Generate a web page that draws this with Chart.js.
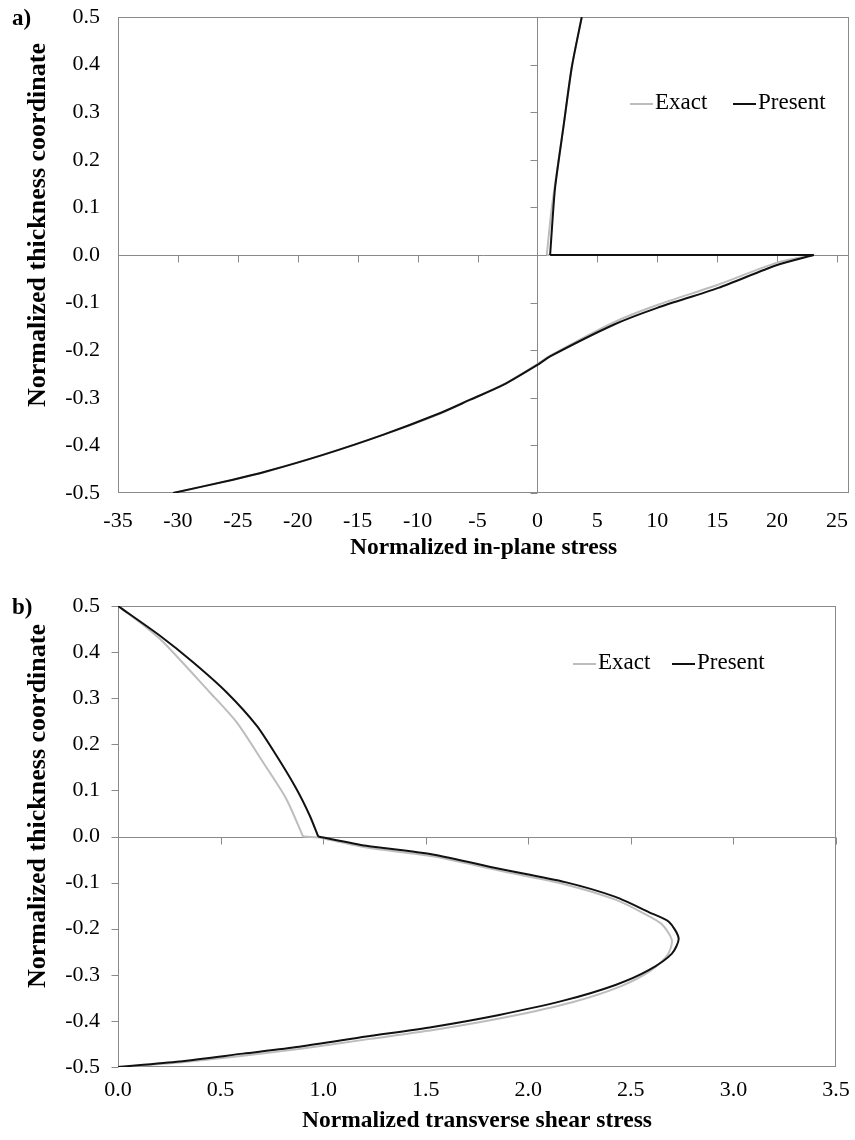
<!DOCTYPE html>
<html>
<head>
<meta charset="utf-8">
<script src="https://cdn.jsdelivr.net/npm/chart.js@4.4.1/dist/chart.umd.min.js"></script>
<style>
  body { margin: 0; background: #fff; }
  #page { position: relative; width: 855px; height: 1140px; background: #fff; font-family: 'Liberation Serif', 'Times New Roman', serif; }
  canvas { position: absolute; left: 0; }
  .panel { position: absolute; left: 12px; font-weight: bold; font-size: 23px; line-height: 26px; }
  .ytitle { position: absolute; width: 420px; height: 30px; line-height: 30px; text-align: center; font-weight: bold; font-size: 26px; transform: rotate(-90deg); white-space: nowrap; }
  .leg { position: absolute; font-size: 23px; line-height: 26px; white-space: nowrap; }
  .leg .ln { display: inline-block; width: 23px; height: 2px; vertical-align: middle; margin-right: 2px; }
</style>
</head>
<body>
<div id="page">
  <canvas id="chartA" width="855" height="570" style="top:0"></canvas>
  <canvas id="chartB" width="855" height="570" style="top:570px"></canvas>
  <div class="panel" style="top:5px">a)</div>
  <div class="panel" style="top:594px">b)</div>
  <div class="ytitle" style="left:-173px; top:210px">Normalized thickness coordinate</div>
  <div class="ytitle" style="left:-173px; top:791px">Normalized thickness coordinate</div>
  <div class="leg" style="left:630px; top:89px"><span class="ln" style="background:#bdbdbd"></span>Exact</div>
  <div class="leg" style="left:733px; top:89px"><span class="ln" style="background:#111"></span>Present</div>
  <div class="leg" style="left:573px; top:649px"><span class="ln" style="background:#bdbdbd"></span>Exact</div>
  <div class="leg" style="left:672px; top:649px"><span class="ln" style="background:#111"></span>Present</div>
</div>
<script>
// a) in-plane stress through the thickness
const aPresentX = [-30.4, -25.4, -22.65, -17.9, -12.9, -8.1, -5.6, -2.85, 0, 1.06, 6.4, 10.0, 15.1, 20.0, 23.06, 1.06, 1.25, 1.48, 2.17, 2.87, 3.7];
const aPresentY = [-0.5, -0.472, -0.455, -0.42, -0.378, -0.332, -0.304, -0.273, -0.231, -0.213, -0.146, -0.111, -0.069, -0.021, 0, 0, 0.07, 0.143, 0.269, 0.395, 0.5];
const aExactX = [-30.4, -25.4, -22.6, -17.9, -12.9, -8.1, -5.6, -2.85, 0, 1.1, 6.4, 10.0, 15.0, 20.0, 23.0, 0.78, 1.2, 2.17, 2.87, 3.7];
const aExactY = [-0.5, -0.472, -0.455, -0.42, -0.378, -0.333, -0.304, -0.272, -0.229, -0.211, -0.141, -0.105, -0.063, -0.016, 0, 0, 0.1, 0.269, 0.395, 0.5];
const aXTicks = [-35, -30, -25, -20, -15, -10, -5, 0, 5, 10, 15, 20, 25];

// b) transverse shear stress through the thickness
const bPresentX = [0, 0.203, 0.366, 0.529, 0.675, 0.773, 0.87, 0.935, 0.976, 1.21, 1.534, 1.858, 2.18, 2.425, 2.587, 2.685, 2.733, 2.70, 2.587, 2.425, 2.18, 1.858, 1.534, 1.21, 0.884, 0.61, 0.3, 0];
const bPresentY = [0.5, 0.436, 0.378, 0.313, 0.241, 0.175, 0.103, 0.045, 0, -0.02, -0.039, -0.07, -0.099, -0.131, -0.164, -0.185, -0.221, -0.254, -0.29, -0.322, -0.355, -0.387, -0.413, -0.434, -0.456, -0.471, -0.488, -0.5];
const bExactX = [0, 0.114, 0.22, 0.447, 0.578, 0.707, 0.821, 0.902, 0.98, 1.21, 1.534, 1.858, 2.18, 2.425, 2.56, 2.65, 2.70, 2.68, 2.60, 2.45, 2.21, 1.89, 1.56, 1.23, 0.9, 0.62, 0.3, 0];
const bExactY = [0.5, 0.462, 0.422, 0.313, 0.248, 0.161, 0.081, 0, -0.002, -0.024, -0.043, -0.074, -0.104, -0.137, -0.166, -0.19, -0.225, -0.256, -0.29, -0.325, -0.36, -0.392, -0.418, -0.439, -0.46, -0.475, -0.49, -0.5];
const bXTicks = [0, 0.5, 1.0, 1.5, 2.0, 2.5, 3.0, 3.5];

const yTicks = [-0.5, -0.4, -0.3, -0.2, -0.1, 0, 0.1, 0.2, 0.3, 0.4, 0.5];

Chart.defaults.font.family = "'Liberation Serif', 'Times New Roman', serif";
Chart.defaults.color = '#000';

const pts = (xs, ys) => xs.map((x, i) => ({ x: x, y: ys[i] }));

// one series is drawn as a few pieces so that the smooth parts
// do not bend around the sharp corners at the layer interface
function pieces(xs, ys, cuts, color, order) {
  const all = pts(xs, ys);
  return cuts.map(([s, e, smooth]) => ({
    data: all.slice(s, e + 1),
    showLine: true, borderColor: color, borderWidth: 2, pointRadius: 0,
    tension: smooth ? 0.25 : 0, order: order
  }));
}

// frame, zero axes and their tick marks (Excel style)
const axesPlugin = {
  id: 'axesPlugin',
  beforeDatasetsDraw(chart) {
    const { ctx, chartArea: a, scales } = chart;
    const xs = scales.x, ys = scales.y;
    ctx.save();
    ctx.strokeStyle = '#8a8a8a';
    ctx.lineWidth = 1;
    ctx.strokeRect(a.left + 0.5, a.top + 0.5, a.right - a.left - 1, a.bottom - a.top - 1);
    const x0 = Math.round(xs.getPixelForValue(0)) + 0.5;
    const y0 = Math.round(ys.getPixelForValue(0)) + 0.5;
    ctx.beginPath();
    ctx.moveTo(x0, a.top); ctx.lineTo(x0, a.bottom);
    ctx.moveTo(a.left, y0); ctx.lineTo(a.right, y0);
    yTicks.forEach(v => {
      const py = Math.round(ys.getPixelForValue(v)) + 0.5;
      ctx.moveTo(x0 - 7, py); ctx.lineTo(x0, py);
    });
    xs.ticks.forEach(t => {
      const px = Math.round(xs.getPixelForValue(t.value)) + 0.5;
      ctx.moveTo(px, y0); ctx.lineTo(px, y0 + 7);
    });
    ctx.stroke();
    ctx.restore();
  }
};

function makeChart(id, cfg) {
  return new Chart(document.getElementById(id), {
    type: 'scatter',
    data: { datasets: cfg.datasets },
    options: {
      responsive: false,
      animation: false,
      devicePixelRatio: 1,
      layout: { padding: { top: cfg.padTop, right: cfg.padRight, left: 0, bottom: 0 } },
      plugins: { legend: { display: false }, tooltip: { enabled: false } },
      scales: {
        x: {
          type: 'linear',
          min: cfg.xMin, max: cfg.xMax,
          afterBuildTicks: s => { s.ticks = cfg.xTicks.map(v => ({ value: v })); },
          afterFit: s => { s.height = cfg.xHeight; s.paddingLeft = 0; s.paddingRight = 0; },
          grid: { display: false, drawTicks: false },
          border: { display: false },
          ticks: {
            padding: cfg.xTickPad, maxRotation: 0, autoSkip: false,
            font: { size: 22 },
            callback: v => cfg.xFmt(v)
          },
          title: { display: true, text: cfg.xTitle, font: { size: 23.5, weight: 'bold' }, padding: { top: 0, bottom: cfg.xTitlePad } }
        },
        y: {
          type: 'linear',
          min: -0.5, max: 0.5,
          afterBuildTicks: s => { s.ticks = yTicks.map(v => ({ value: v })); },
          afterFit: s => { s.width = 118; s.paddingTop = 0; s.paddingBottom = 0; },
          grid: { display: false, drawTicks: false },
          border: { display: false },
          ticks: { padding: 18, font: { size: 22 }, callback: v => v.toFixed(1) },
          title: { display: false }
        }
      }
    },
    plugins: [axesPlugin]
  });
}

const GREY = '#bdbdbd', BLACK = '#111';

makeChart('chartA', {
  datasets: [
    ...pieces(aPresentX, aPresentY, [[0, 14, true], [14, 15, false], [15, 20, true]], BLACK, 1),
    ...pieces(aExactX, aExactY, [[0, 14, true], [14, 15, false], [15, 19, true]], GREY, 2)
  ],
  xMin: -35, xMax: 26, xTicks: aXTicks,
  xFmt: v => String(v),
  xTitle: 'Normalized in-plane stress',
  padTop: 17, padRight: 6, xHeight: 77, xTickPad: 15, xTitlePad: 8
});

makeChart('chartB', {
  datasets: [
    ...pieces(bPresentX, bPresentY, [[0, 8, true], [8, 27, true]], BLACK, 1),
    ...pieces(bExactX, bExactY, [[0, 7, true], [7, 8, false], [8, 27, true]], GREY, 2)
  ],
  xMin: 0, xMax: 3.5, xTicks: bXTicks,
  xFmt: v => v.toFixed(1),
  xTitle: 'Normalized transverse shear stress',
  padTop: 36, padRight: 19, xHeight: 73, xTickPad: 10, xTitlePad: 5
});
</script>
</body>
</html>
